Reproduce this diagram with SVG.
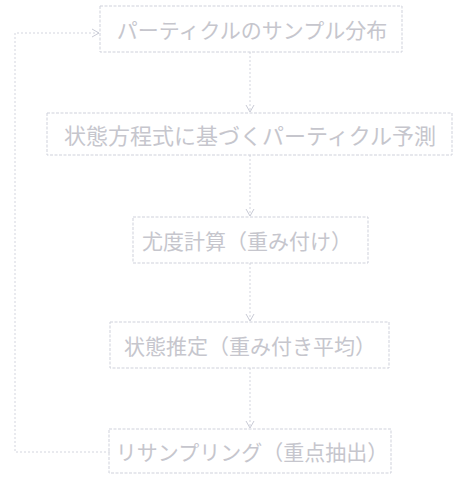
<svg xmlns="http://www.w3.org/2000/svg" width="458" height="478" viewBox="0 0 458 478">
<style>
.box{fill:none;stroke:#cfd1db;stroke-width:1;stroke-dasharray:3 1.5}
.lbl{font-family:"Noto Sans CJK JP","Noto Sans",sans-serif;font-size:21px;fill:#c6c6cd;text-anchor:middle;dominant-baseline:central}
.ln{fill:none;stroke:#d3d5de;stroke-width:1;stroke-dasharray:2 2}
</style>
<defs>
<marker id="ah" markerWidth="10" markerHeight="10" refX="8" refY="5" orient="auto" markerUnits="userSpaceOnUse">
<path d="M1,1 L8,5 L1,9" fill="none" stroke="#c9cbd6" stroke-width="1"/>
</marker>
</defs>
<rect width="458" height="478" fill="#ffffff"/>
<g id="connectors">
<line class="ln" x1="250" y1="52" x2="250" y2="112" marker-end="url(#ah)"/>
<line class="ln" x1="250" y1="155" x2="250" y2="216" marker-end="url(#ah)"/>
<line class="ln" x1="250" y1="263" x2="250" y2="321" marker-end="url(#ah)"/>
<line class="ln" x1="250" y1="368" x2="250" y2="428" marker-end="url(#ah)"/>
<polyline class="ln" points="110,452 15,452 15,33 99,33" marker-end="url(#ah)"/>
</g>
<g id="n1">
<rect class="box" x="100" y="6" width="302" height="46"/>
<text class="lbl" x="252" y="29">パーティクルのサンプル分布</text>
</g>
<g id="n2">
<rect class="box" x="47" y="113" width="405" height="42"/>
<text class="lbl" x="250" y="134" style="font-size:22px">状態方程式に基づくパーティクル予測</text>
</g>
<g id="n3">
<rect class="box" x="133" y="217" width="235" height="46"/>
<text class="lbl" x="247" y="240">尤度計算（重み付け）</text>
</g>
<g id="n4">
<rect class="box" x="110" y="322" width="279" height="46"/>
<text class="lbl" x="250" y="345">状態推定（重み付き平均）</text>
</g>
<g id="n5">
<rect class="box" x="109" y="429" width="282" height="44"/>
<text class="lbl" x="252" y="451">リサンプリング（重点抽出）</text>
</g>
</svg>
